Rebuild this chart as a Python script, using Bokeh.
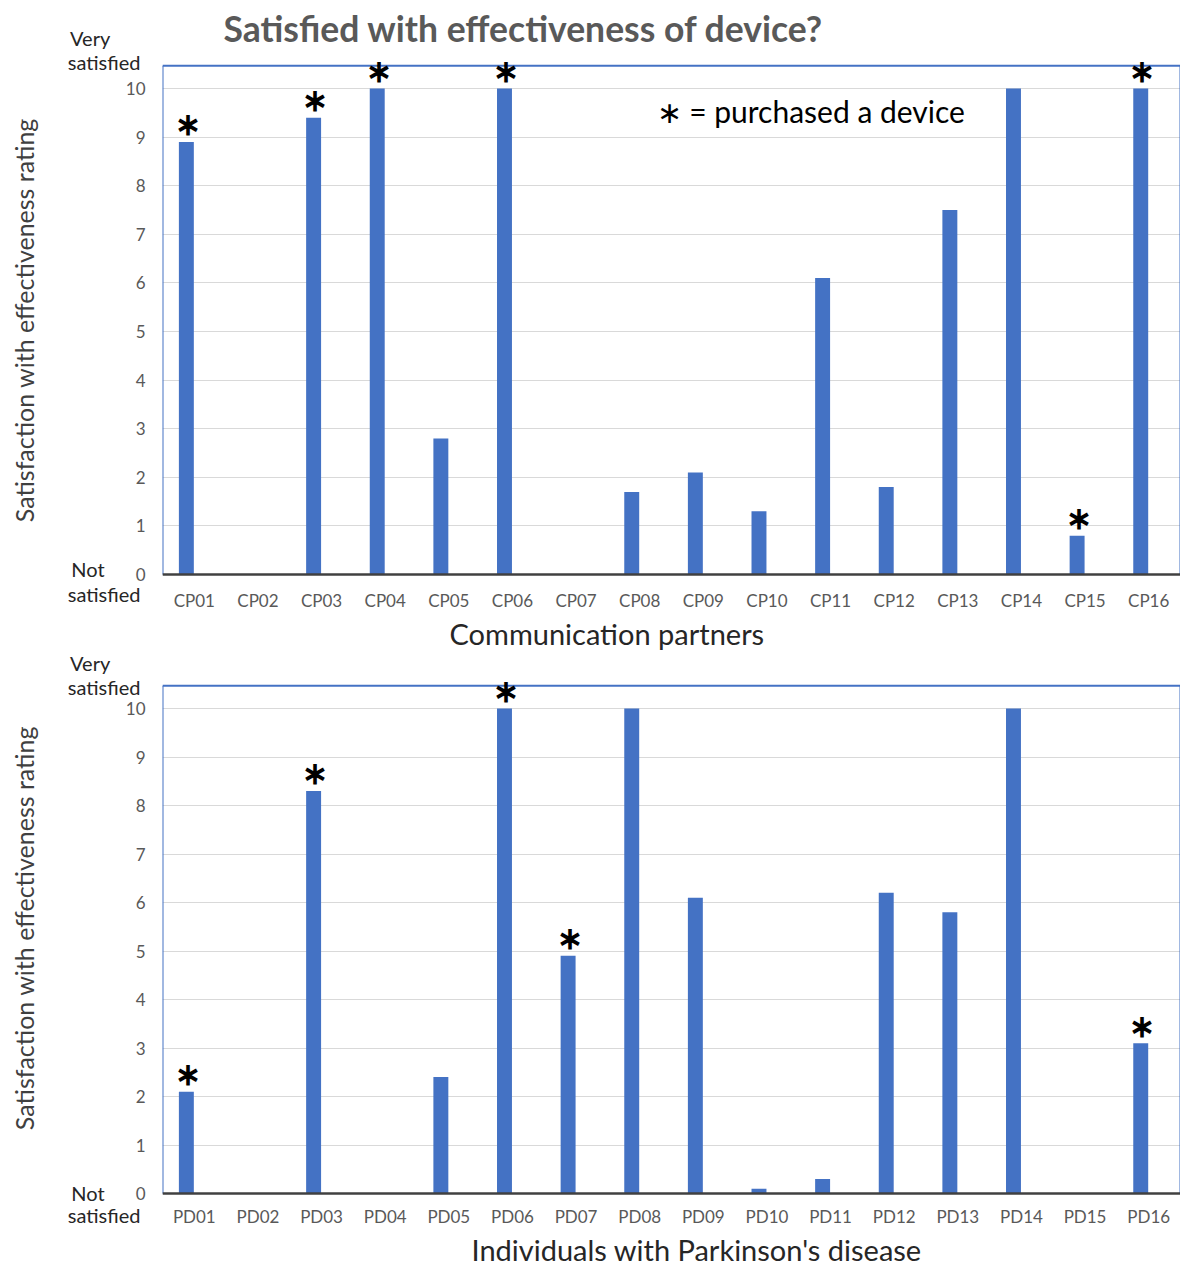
from bokeh.plotting import figure
from bokeh.models import (Range1d, FactorRange, FixedTicker, Label, ColumnDataSource, Span,
                          Title, LinearAxis)
from bokeh.transform import dodge
from bokeh.layouts import column
from bokeh.embed import file_html
from bokeh.resources import INLINE

cp_cats = ["CP01", "CP02", "CP03", "CP04", "CP05", "CP06", "CP07", "CP08",
           "CP09", "CP10", "CP11", "CP12", "CP13", "CP14", "CP15", "CP16"]
cp_vals = [8.9, 0, 9.4, 10, 2.8, 10, 0, 1.7, 2.1, 1.3, 6.1, 1.8, 7.5, 10, 0.8, 10]
cp_purchased = ["CP01", "CP03", "CP04", "CP06", "CP15", "CP16"]

pd_cats = ["PD01", "PD02", "PD03", "PD04", "PD05", "PD06", "PD07", "PD08",
           "PD09", "PD10", "PD11", "PD12", "PD13", "PD14", "PD15", "PD16"]
pd_vals = [2.1, 0, 8.3, 0, 2.4, 10, 4.9, 10, 6.1, 0.1, 0.3, 6.2, 5.8, 10, 0, 3.1]
pd_purchased = ["PD01", "PD03", "PD06", "PD07", "PD16"]

y_ticks = list(range(11))
NB = "\u00a0"
word_labels = ["Very" + NB * 6, "satisfied", "Not" + NB * 7, "satisfied"]
cp_word_ticks = [11.03, 10.55, 0.12, -0.41]
pd_word_ticks = [11.0, 10.45, 0.02, -0.45]

title_text = "Satisfied with effectiveness of device?"
y_title = "Satisfaction with effectiveness rating"
cp_title = "Communication partners"
pd_title = "Individuals with Parkinson's disease"
legend_text = "\u2217 = purchased a device"

BLUE = "#4472C4"
FONT = "Lato"
FRAME_TOP = 10.47


def make(cats, vals, purchased, word_ticks, yr, height, top, bottom,
         xstandoff, xtitle, xtitle_off, xtitle_standoff, ytitle_text):
    p = figure(x_range=FactorRange(*cats), y_range=Range1d(*yr),
               width=1180, height=height, output_backend="svg", toolbar_location=None,
               min_border_left=162, min_border_right=0, min_border_top=top,
               min_border_bottom=bottom)
    p.outline_line_color = None
    n = len(cats)
    # plot-area border (left, top, right)
    p.segment(x0=[0, 0, n], y0=[0, FRAME_TOP, 0], x1=[0, n, n], y1=[FRAME_TOP, FRAME_TOP, FRAME_TOP],
              line_color=BLUE, line_width=2)
    src = ColumnDataSource(dict(cat=cats, val=vals))
    p.vbar(x=dodge('cat', -0.125, range=p.x_range), top='val', width=0.235,
           source=src, fill_color=BLUE, line_color=None)
    p.add_layout(Span(location=0, dimension='width', line_color="#404040", line_width=2.5))

    s_cats = [c for c in cats if c in purchased]
    s_vals = [vals[cats.index(c)] for c in s_cats]
    ssrc = ColumnDataSource(dict(cat=s_cats, val=s_vals, txt=["\u2217"] * len(s_cats)))
    p.text(x=dodge('cat', -0.1, range=p.x_range), y='val', text='txt', source=ssrc,
           text_align="center", text_baseline="middle", y_offset=-17,
           text_font_size="31px", text_font_style="bold", text_color="black",
           text_font="DejaVu Sans")

    p.xgrid.visible = False
    p.ygrid[0].ticker = FixedTicker(ticks=y_ticks)
    p.ygrid[0].grid_line_color = "#d9d9d9"
    p.ygrid[0].grid_line_width = 1

    ax = p.yaxis[0]
    ax.ticker = FixedTicker(ticks=y_ticks)
    ax.axis_line_color = None
    ax.major_tick_line_color = None
    ax.minor_tick_line_color = None
    ax.major_tick_out = 0
    ax.major_tick_in = 0
    ax.major_label_text_font = FONT
    ax.major_label_text_font_size = "17px"
    ax.major_label_text_color = "#595959"
    ax.major_label_standoff = 17

    wax = LinearAxis(ticker=FixedTicker(ticks=word_ticks),
                     major_label_overrides=dict(zip(word_ticks, word_labels)),
                     axis_line_color=None, major_tick_line_color=None,
                     minor_tick_line_color=None, major_tick_out=0, major_tick_in=0,
                     major_label_text_font=FONT, major_label_text_font_size="20px",
                     major_label_text_color="#262626", major_label_standoff=-18,
                     axis_label=ytitle_text, axis_label_text_font=FONT,
                     axis_label_text_font_size="25px", axis_label_text_font_style="normal",
                     axis_label_text_color="#404040", axis_label_standoff=26)
    p.add_layout(wax, "left")

    xa = p.xaxis[0]
    xa.axis_line_color = None
    xa.major_tick_line_color = None
    xa.minor_tick_line_color = None
    xa.major_tick_out = 0
    xa.major_tick_in = 0
    xa.major_label_text_font = FONT
    xa.major_label_text_font_size = "17px"
    xa.major_label_text_color = "#595959"
    xa.major_label_standoff = xstandoff

    p.add_layout(Title(text=xtitle, align="left", offset=xtitle_off, standoff=xtitle_standoff,
                       text_font=FONT, text_font_size="29px", text_font_style="normal",
                       text_color="#262626"), "below")
    return p


p1 = make(cp_cats, cp_vals, cp_purchased, cp_word_ticks, (-0.473, 11.728), 650, 4, 53,
          -8, cp_title, 287, 0, y_title + NB * 6)
p1.add_layout(Label(x=0, y=10, x_offset=61, y_offset=60, text=title_text,
                    text_font=FONT, text_font_size="35.5px", text_font_style="bold",
                    text_color="#595959", text_align="left", text_baseline="middle"))
p1.add_layout(Label(x=0, y=10, x_offset=494, y_offset=-23, text=legend_text,
                    text_font=FONT, text_font_size="30px", text_color="black",
                    text_align="left", text_baseline="middle"))

p2 = make(pd_cats, pd_vals, pd_purchased, pd_word_ticks, (-0.474, 11.155), 616, 2, 50,
          -11, pd_title, 309, 0, NB * 2 + y_title)

layout = column(p1, p2, spacing=0)
open("out.html", "w").write(file_html(layout, INLINE))
